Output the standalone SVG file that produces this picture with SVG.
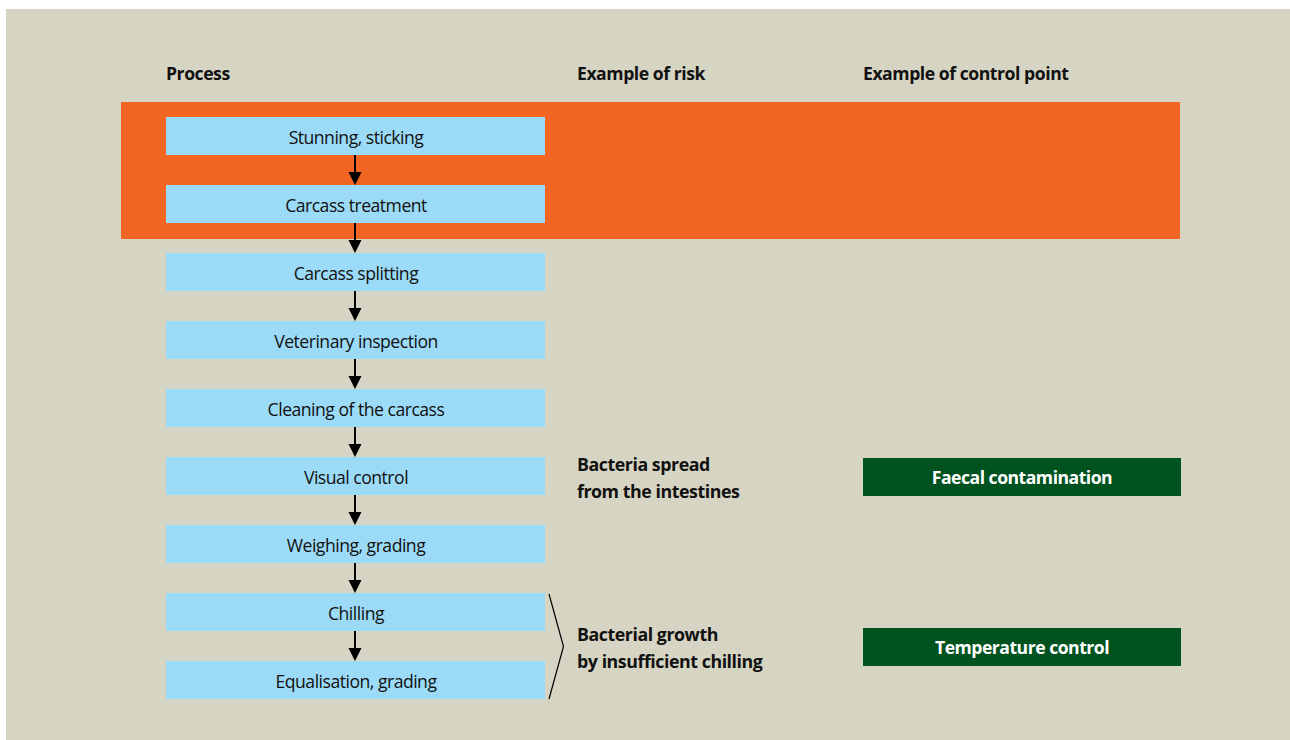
<svg xmlns="http://www.w3.org/2000/svg" width="1290" height="740" viewBox="0 0 1290 740">
  <defs>
    <style>
      .hdr { font-family: "Open Sans", "Noto Sans", sans-serif; font-weight: bold; font-size: 17.6px; fill: #111; letter-spacing: -0.45px; }
      .step rect { fill: #9cdbf7; }
      .step text { font-family: "Open Sans", "Noto Sans", sans-serif; font-size: 17.6px; fill: #111; text-anchor: middle; letter-spacing: -0.5px; }
      .risk { font-family: "Open Sans", "Noto Sans", sans-serif; font-weight: bold; font-size: 17.8px; fill: #111; letter-spacing: -0.45px; }
      .ctrl rect { fill: #00531f; }
      .ctrl text { font-family: "Open Sans", "Noto Sans", sans-serif; font-weight: bold; font-size: 17.6px; fill: #fff; text-anchor: middle; letter-spacing: -0.5px; }
      .flow line { stroke: #000; stroke-width: 2; }
      .flow path { fill: #000; }
    </style>
  </defs>

  <!-- panel background -->
  <rect x="6" y="9" width="1284" height="731" fill="#d6d4c2"/>
  <!-- highlighted band behind the first two steps -->
  <rect x="121" y="102" width="1059" height="137" fill="#f26522"/>

  <!-- column headers -->
  <text class="hdr" x="166" y="80">Process</text>
  <text class="hdr" x="577" y="80">Example of risk</text>
  <text class="hdr" x="863" y="80">Example of control point</text>

  <!-- connectors between process steps -->
  <g id="connectors" class="flow">
    <line x1="355" y1="155" x2="355" y2="172"/>
    <path d="M348.5,172 L361.5,172 L355,185 Z"/>
    <line x1="355" y1="223" x2="355" y2="240"/>
    <path d="M348.5,240 L361.5,240 L355,253 Z"/>
    <line x1="355" y1="291" x2="355" y2="308"/>
    <path d="M348.5,308 L361.5,308 L355,321 Z"/>
    <line x1="355" y1="359" x2="355" y2="376"/>
    <path d="M348.5,376 L361.5,376 L355,389 Z"/>
    <line x1="355" y1="427" x2="355" y2="444"/>
    <path d="M348.5,444 L361.5,444 L355,457 Z"/>
    <line x1="355" y1="495" x2="355" y2="512"/>
    <path d="M348.5,512 L361.5,512 L355,525 Z"/>
    <line x1="355" y1="563" x2="355" y2="580"/>
    <path d="M348.5,580 L361.5,580 L355,593 Z"/>
    <line x1="355" y1="631" x2="355" y2="648"/>
    <path d="M348.5,648 L361.5,648 L355,661 Z"/>
    <!-- bracket grouping chilling steps -->
    <polyline points="549,594 563.5,646.5 549,699" fill="none" stroke="#000" stroke-width="1.2"/>
  </g>

  <!-- process steps -->
  <g id="step-stunning" class="step"><rect x="166" y="117" width="379" height="38"/><text x="356" y="144">Stunning, sticking</text></g>
  <g id="step-treatment" class="step"><rect x="166" y="185" width="379" height="38"/><text x="356" y="212">Carcass treatment</text></g>
  <g id="step-splitting" class="step"><rect x="166" y="253" width="379" height="38"/><text x="356" y="280">Carcass splitting</text></g>
  <g id="step-inspection" class="step"><rect x="166" y="321" width="379" height="38"/><text x="356" y="348">Veterinary inspection</text></g>
  <g id="step-cleaning" class="step"><rect x="166" y="389" width="379" height="38"/><text x="356" y="416">Cleaning of the carcass</text></g>
  <g id="step-visual" class="step"><rect x="166" y="457" width="379" height="38"/><text x="356" y="484">Visual control</text></g>
  <g id="step-weighing" class="step"><rect x="166" y="525" width="379" height="38"/><text x="356" y="552">Weighing, grading</text></g>
  <g id="step-chilling" class="step"><rect x="166" y="593" width="379" height="38"/><text x="356" y="620">Chilling</text></g>
  <g id="step-equalisation" class="step"><rect x="166" y="661" width="379" height="38"/><text x="356" y="688">Equalisation, grading</text></g>

  <!-- risks -->
  <g id="risk-bacteria">
    <text class="risk" x="577" y="471">Bacteria spread</text>
    <text class="risk" x="577" y="498">from the intestines</text>
  </g>
  <g id="risk-growth">
    <text class="risk" x="577" y="641">Bacterial growth</text>
    <text class="risk" x="577" y="668">by insufficient chilling</text>
  </g>

  <!-- control points -->
  <g id="ctrl-faecal" class="ctrl"><rect x="863" y="458" width="318" height="38"/><text x="1022" y="484">Faecal contamination</text></g>
  <g id="ctrl-temperature" class="ctrl"><rect x="863" y="628" width="318" height="38"/><text x="1022" y="654">Temperature control</text></g>
</svg>
